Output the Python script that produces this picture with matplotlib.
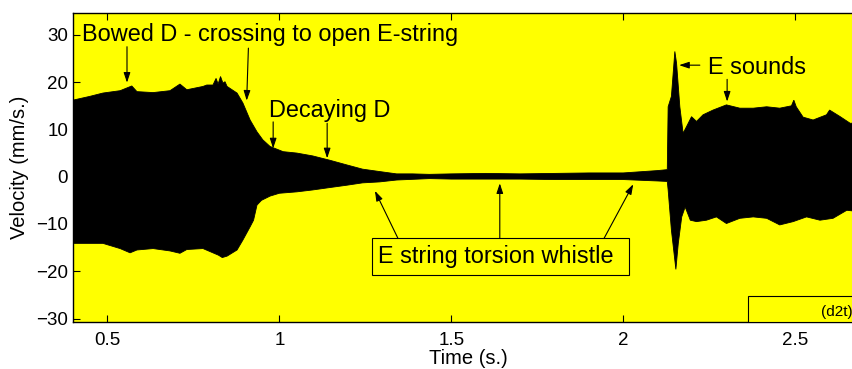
#%% --- Import Required Packages ---

import numpy as np
import matplotlib
matplotlib.use("Agg")
import matplotlib.pyplot as plt
from matplotlib.patches import Rectangle

#%% --- Data (envelope of the velocity signal) ---

# upper envelope
t_upper = [0.400, 0.449, 0.487, 0.537, 0.571, 0.586, 0.633, 0.682, 0.711, 0.731,
           0.778, 0.789, 0.807, 0.816, 0.822, 0.829, 0.836, 0.842, 0.848, 0.877,
           0.894, 0.915, 0.935, 0.952, 0.973, 1.011, 1.051, 1.097, 1.146, 1.196,
           1.242, 1.291, 1.341, 1.387, 1.436, 1.500, 1.600, 1.700, 1.800, 1.900,
           2.000, 2.100, 2.128, 2.1305, 2.140, 2.150, 2.155, 2.1645, 2.174, 2.184,
           2.1985, 2.213, 2.232, 2.261, 2.300, 2.339, 2.378, 2.417, 2.455, 2.489,
           2.496, 2.503, 2.523, 2.552, 2.591, 2.600, 2.631, 2.660, 2.700]
v_upper = [16.2, 17.0, 17.7, 18.2, 19.2, 18.0, 17.8, 18.2, 19.6, 18.4,
           19.1, 19.4, 19.4, 20.8, 19.6, 21.2, 19.8, 20.1, 19.1, 17.7,
           15.6, 12.0, 9.5, 7.8, 6.4, 5.3, 5.0, 4.4, 3.5, 2.5,
           1.6, 1.1, 0.6, 0.6, 0.5, 0.6, 0.7, 0.6, 0.7, 0.8,
           0.8, 1.3, 1.5, 14.8, 17.0, 26.5, 24.0, 14.8, 9.2, 10.6,
           12.7, 11.7, 13.1, 14.1, 15.2, 14.5, 14.5, 14.8, 14.5, 15.0,
           16.2, 14.8, 12.6, 12.0, 13.1, 14.1, 12.7, 11.3, 11.5]

# lower envelope
t_lower = [0.400, 0.487, 0.537, 0.566, 0.586, 0.633, 0.682, 0.711, 0.731, 0.778,
           0.823, 0.834, 0.848, 0.877, 0.894, 0.915, 0.925, 0.935, 0.948, 0.973,
           1.000, 1.051, 1.097, 1.146, 1.196, 1.242, 1.291, 1.341, 1.436, 1.500,
           1.600, 1.700, 1.800, 1.900, 2.000, 2.100, 2.128, 2.1305, 2.140, 2.153,
           2.160, 2.170, 2.180, 2.195, 2.213, 2.242, 2.271, 2.300, 2.339, 2.378,
           2.417, 2.455, 2.494, 2.533, 2.572, 2.610, 2.650, 2.700]
v_lower = [-14.1, -14.1, -15.2, -16.1, -15.5, -15.2, -15.7, -16.2, -15.4, -15.2,
           -16.6, -17.1, -16.8, -15.5, -13.4, -10.6, -9.2, -6.0, -5.0, -4.1,
           -3.5, -3.2, -2.8, -2.3, -1.8, -1.3, -1.1, -0.7, -0.4, -0.5,
           -0.5, -0.5, -0.6, -0.6, -0.6, -0.9, -1.0, -2.8, -11.3, -19.6,
           -14.1, -8.5, -6.4, -9.2, -9.5, -9.2, -8.5, -9.9, -8.8, -8.5,
           -8.8, -10.2, -9.5, -8.5, -9.2, -8.8, -7.1, -7.5]

x_ticks = [0.5, 1, 1.5, 2, 2.5]
x_ticklabels = ["0.5", "1", "1.5", "2", "2.5"]
y_ticks = [-30, -20, -10, 0, 10, 20, 30]

#%% --- Universal variables ---

plt.rcParams["font.family"] = ["Liberation Sans", "DejaVu Sans"]
color_yellow = "#FFFF00"
font_note = 16.9
arrow_props = dict(arrowstyle="-|>,head_length=0.6,head_width=0.2",
                   color="black", lw=0.8, shrinkA=0, shrinkB=0,
                   mutation_scale=10)

#%% --- Figure ---

fig = plt.figure(figsize=(8.53, 3.69), dpi=100)
ax = fig.add_axes([73 / 853, 46.7 / 369, 791 / 853, 309.6 / 369])
ax.set_facecolor(color_yellow)

# --- signal ---
t_poly = np.concatenate([t_upper, t_lower[::-1]])
v_poly = np.concatenate([v_upper, v_lower[::-1]])
ax.fill(t_poly, v_poly, color="black", lw=0.6, zorder=2)

# --- limits and ticks ---
ax.set_xlim(0.4, 2.7)
ax.set_ylim(-30.8, 34.7)
ax.set_xticks(x_ticks)
ax.set_xticklabels(x_ticklabels)
ax.set_yticks(y_ticks)
ax.tick_params(direction="in", length=5, width=0.8, top=True, right=True,
               labelsize=13.5)
ax.tick_params(axis="x", pad=7)
ax.tick_params(axis="y", pad=3.5)
for side in ax.spines.values():
    side.set_linewidth(1.0)

ax.set_xlabel("Time (s.)", fontsize=14.5, labelpad=0)
ax.set_ylabel("Velocity (mm/s.)", fontsize=14.5, labelpad=5)

# --- annotations ---
ax.text(0.426, 28.8, "Bowed D - crossing to open E-string", fontsize=font_note,
        va="baseline", ha="left", zorder=4)
ax.annotate("", xy=(0.557, 19.9), xytext=(0.557, 27.5), arrowprops=arrow_props)
ax.annotate("", xy=(0.905, 16.1), xytext=(0.910, 27.2), arrowprops=arrow_props)

ax.text(0.970, 12.7, "Decaying D", fontsize=font_note, va="baseline", ha="left")
ax.annotate("", xy=(0.982, 6.0), xytext=(0.982, 11.6), arrowprops=arrow_props)
ax.annotate("", xy=(1.139, 3.9), xytext=(1.139, 11.3), arrowprops=arrow_props)

ax.add_patch(Rectangle((1.2701, -20.83), 2.0172 - 1.2701, 20.83 - 13.06,
                       facecolor=color_yellow, edgecolor="black", lw=0.8,
                       zorder=3))
ax.text(1.2875, -18.2, "E string torsion whistle", fontsize=font_note,
        va="baseline", ha="left", zorder=4)
ax.annotate("", xy=(1.278, -3.0), xytext=(1.345, -13.06), arrowprops=arrow_props)
ax.annotate("", xy=(1.641, -1.4), xytext=(1.641, -13.06), arrowprops=arrow_props)
ax.annotate("", xy=(2.029, -1.6), xytext=(1.944, -13.06), arrowprops=arrow_props)

ax.text(2.2468, 21.7, "E sounds", fontsize=font_note, va="baseline", ha="left")
ax.annotate("", xy=(2.1625, 23.6), xytext=(2.2227, 23.6), arrowprops=arrow_props)
ax.annotate("", xy=(2.302, 15.9), xytext=(2.302, 20.6), arrowprops=arrow_props)

ax.add_patch(Rectangle((2.363, -30.8), 2.7 - 2.363, 30.8 - 25.3,
                       facecolor=color_yellow, edgecolor="black", lw=0.8,
                       zorder=3))
ax.text(2.576, -29.45, "(d2t)", fontsize=11, va="baseline", ha="left", zorder=4)

#%% --- Export ---

fig.savefig("out.png", dpi=100)
